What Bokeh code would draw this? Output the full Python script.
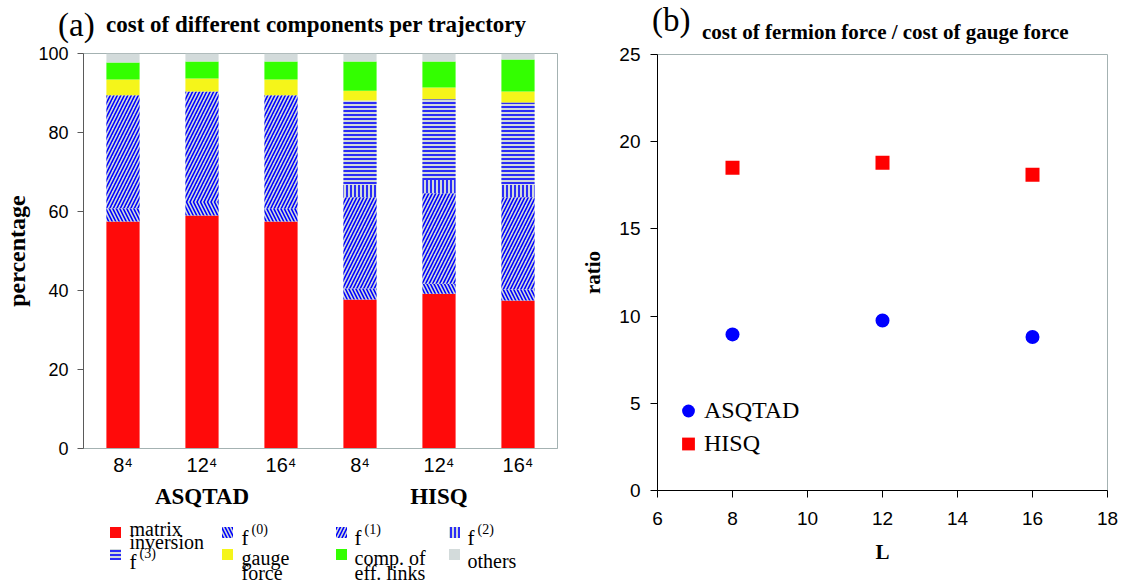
from bokeh.plotting import figure
from bokeh.models import FactorRange, Range1d, Legend, LegendItem, Div
from bokeh.layouts import row, column
from bokeh.embed import file_html
from bokeh.resources import INLINE
from bokeh.core.properties import value

# ---------------- data ----------------
groups = ["ASQTAD", "ASQTAD", "ASQTAD", "HISQ", "HISQ", "HISQ"]
lattices = ["8⁴", "12⁴", "16⁴", "8⁴", "12⁴", "16⁴"]

matrix_inversion = [57.5, 59.0, 57.5, 37.7, 39.2, 37.5]
f0 = [3.3, 3.4, 3.2, 2.8, 2.5, 2.8]
f1 = [28.6, 28.0, 28.7, 23.1, 22.9, 23.3]
f2 = [0.0, 0.0, 0.0, 3.2, 3.4, 3.2]
f3 = [0.0, 0.0, 0.0, 21.3, 20.4, 20.8]
gauge_force = [4.0, 3.3, 4.0, 2.5, 3.0, 2.8]
eff_links = [4.3, 4.3, 4.6, 7.4, 6.6, 8.1]
others = [2.3, 2.0, 2.0, 2.0, 2.0, 1.5]

y_ticks_a = [0, 20, 40, 60, 80, 100]

L = [8, 12, 16]
asqtad_ratio = [8.95, 9.75, 8.8]
hisq_ratio = [18.5, 18.8, 18.1]
x_ticks_b = [6, 8, 10, 12, 14, 16, 18]
y_ticks_b = [0, 5, 10, 15, 20, 25]

legend_labels = [["matrix", "inversion"], ["f", "(0)"], ["f", "(1)"], ["f", "(2)"],
                 ["f", "(3)"], ["gauge", "force"], ["comp. of", "eff. links"], ["others"]]
title_a = ["(a)", "cost of different components per trajectory"]
title_b = ["(b)", "cost of fermion force / cost of gauge force"]

# ---------------- styles ----------------
SERIF = "Liberation Serif"
SANS = "Liberation Sans"
BLUE = "#0000ff"
HATCH_BG = "#d2dada"
FRAME_GRAY = "#a4b2b2"
styles = [
    dict(fill_color="#ff0a0a"),
    dict(fill_color=HATCH_BG, hatch_pattern="\\", hatch_color=BLUE, hatch_weight=1.6, hatch_scale=7),
    dict(fill_color=HATCH_BG, hatch_pattern="/", hatch_color=BLUE, hatch_weight=1.6, hatch_scale=7),
    dict(fill_color=HATCH_BG, hatch_pattern="|", hatch_color=BLUE, hatch_weight=1.6, hatch_scale=4),
    dict(fill_color=HATCH_BG, hatch_pattern="-", hatch_color=BLUE, hatch_weight=1.6, hatch_scale=4),
    dict(fill_color="#f5f51a"),
    dict(fill_color="#33ff00"),
    dict(fill_color="#d3dbdb"),
]
layers = [matrix_inversion, f0, f1, f2, f3, gauge_force, eff_links, others]


def title_div(width, parts):
    spans = []
    for txt, left, top, size, bold in parts:
        spans.append(
            f'<span style="position:absolute;left:{left}px;top:{top}px;white-space:nowrap;'
            f'font-family:\'{SERIF}\';font-size:{size}px;line-height:1;color:black;'
            f'font-weight:{"bold" if bold else "normal"}">{txt}</span>')
    html = (f'<div style="position:relative;width:{width}px;height:44px;margin:0;padding:0">'
            + "".join(spans) + "</div>")
    return Div(text=html, width=width, height=44, margin=0)


# ---------------- title strips ----------------
ta = title_div(570, [(title_a[0], 58, 9, 33, False), (title_a[1], 106, 13, 23, True)])
tb = title_div(550, [(title_b[0], 82, 4, 33, False), (title_b[1], 132, 22, 21, True)])

# ---------------- panel (a) ----------------
factors = list(zip(groups, lattices))
pa = figure(x_range=FactorRange(*factors, factor_padding=0, group_padding=0, range_padding=0),
            y_range=Range1d(0, 100), width=570, height=472,
            min_border_left=83, min_border_right=13, min_border_top=9, min_border_bottom=68,
            output_backend="svg", toolbar_location=None)
bottom = [0.0] * len(factors)
for vals, st in zip(layers, styles):
    top = [b + v for b, v in zip(bottom, vals)]
    pa.vbar(x=factors, bottom=bottom, top=top, width=0.42, line_color=None, **st)
    bottom = top

pa.xgrid.visible = False
pa.ygrid.visible = False
pa.outline_line_color = FRAME_GRAY
pa.yaxis.ticker = y_ticks_a
pa.yaxis.minor_tick_line_color = None
pa.yaxis.major_tick_in = 0
pa.yaxis.major_tick_out = 6
pa.yaxis.axis_line_color = "#5a5a5a"
pa.yaxis.major_tick_line_color = "#5a5a5a"
pa.yaxis.major_label_text_font = SANS
pa.yaxis.major_label_text_font_size = "18px"
pa.yaxis.major_label_text_color = "black"
pa.yaxis.major_label_standoff = 9
pa.yaxis.axis_label = "percentage"
pa.yaxis.axis_label_text_font = SERIF
pa.yaxis.axis_label_text_font_style = "bold"
pa.yaxis.axis_label_text_font_size = "24px"
pa.yaxis.axis_label_standoff = 5
pa.yaxis.axis_label_text_color = "black"

pa.xaxis.axis_line_color = FRAME_GRAY
pa.xaxis.major_tick_line_color = None
pa.xaxis.major_tick_out = 0
pa.xaxis.major_tick_in = 0
pa.xaxis.major_label_text_font = SANS
pa.xaxis.major_label_text_font_size = "20px"
pa.xaxis.major_label_text_color = "black"
pa.xaxis.major_label_standoff = 5
pa.xaxis.group_text_font = SERIF
pa.xaxis.group_text_font_style = "bold"
pa.xaxis.group_text_font_size = "23px"
pa.xaxis.group_text_color = "black"
pa.xaxis.separator_line_alpha = 0

# ---------------- legend of panel (a) ----------------
pl = figure(width=570, height=64, x_range=Range1d(83, 557), y_range=Range1d(580, 516),
            min_border_left=83, min_border_right=13, min_border_top=0, min_border_bottom=0,
            x_axis_type=None, y_axis_type=None, output_backend="svg", toolbar_location=None)
pl.xgrid.visible = False
pl.ygrid.visible = False
pl.outline_line_color = None
col_sw = [115, 227, 341, 454]
col_tx = [129, 241, 354, 467]
row_sw = [532, 554]
for i, (st, lab) in enumerate(zip(styles, legend_labels)):
    c, r = i % 4, i // 4
    pl.rect(x=[col_sw[c]], y=[row_sw[r]], width=11, height=11, line_color=None, **st)
    if lab[0] == "f":
        base = row_sw[r] + (5 if r == 0 else 7)
        pl.text(x=[col_tx[c]], y=[base], text=["f"], text_font=value(SERIF), text_font_size="21px",
                text_baseline="alphabetic", text_color="black")
        pl.text(x=[col_tx[c] + 10], y=[base - 8], text=[lab[1]], text_font=value(SERIF),
                text_font_size="14px", text_baseline="alphabetic", text_color="black")
    elif len(lab) == 2:
        if r == 0:
            bases = [row_sw[r] - 4, row_sw[r] + 9]
        else:
            bases = [row_sw[r] + 3, row_sw[r] + 18]
        for line, b in zip(lab, bases):
            pl.text(x=[col_tx[c]], y=[b], text=[line], text_font=value(SERIF), text_font_size="20px",
                    text_baseline="alphabetic", text_color="black")
    else:
        pl.text(x=[col_tx[c]], y=[row_sw[r] + 6], text=[lab[0]], text_font=value(SERIF),
                text_font_size="20px", text_baseline="alphabetic", text_color="black")

# ---------------- panel (b) ----------------
pb = figure(x_range=Range1d(6, 18), y_range=Range1d(0, 25), width=550, height=536,
            min_border_left=87, min_border_right=13, min_border_top=10, min_border_bottom=90,
            output_backend="svg", toolbar_location=None)
ra = pb.scatter(L, asqtad_ratio, marker="circle", size=14, fill_color=BLUE, line_color=None)
rh = pb.scatter(L, hisq_ratio, marker="square", size=14, fill_color="#ff0000", line_color=None)
pb.xgrid.visible = False
pb.ygrid.visible = False
pb.outline_line_color = FRAME_GRAY
for ax in (pb.xaxis, pb.yaxis):
    ax.minor_tick_line_color = None
    ax.major_tick_in = 0
    ax.major_tick_out = 7
    ax.axis_line_color = "black"
    ax.major_tick_line_color = "black"
    ax.major_label_text_font = SANS
    ax.major_label_text_font_size = "19px"
    ax.major_label_text_color = "black"
    ax.axis_label_text_font = SERIF
    ax.axis_label_text_font_style = "bold"
    ax.axis_label_text_font_size = "21px"
    ax.axis_label_text_color = "black"
pb.xaxis.ticker = x_ticks_b
pb.yaxis.ticker = y_ticks_b
pb.xaxis.major_label_standoff = 14
pb.yaxis.major_label_standoff = 10
pb.xaxis.axis_label = "L"
pb.xaxis.axis_label_standoff = 12
pb.yaxis.axis_label = "ratio"
pb.yaxis.axis_label_standoff = 11

leg = Legend(items=[LegendItem(label="ASQTAD", renderers=[ra]), LegendItem(label="HISQ", renderers=[rh])],
             location=(15, 30), glyph_width=32, glyph_height=33, spacing=0, padding=0, margin=0,
             label_standoff=0, label_text_font=SERIF, label_text_font_size="24px",
             label_text_color="black", background_fill_alpha=0, border_line_alpha=0)
pb.add_layout(leg)

layout = row(column(ta, pa, pl, spacing=0), column(tb, pb, spacing=0), spacing=0)
open("out.html", "w").write(file_html(layout, INLINE))
